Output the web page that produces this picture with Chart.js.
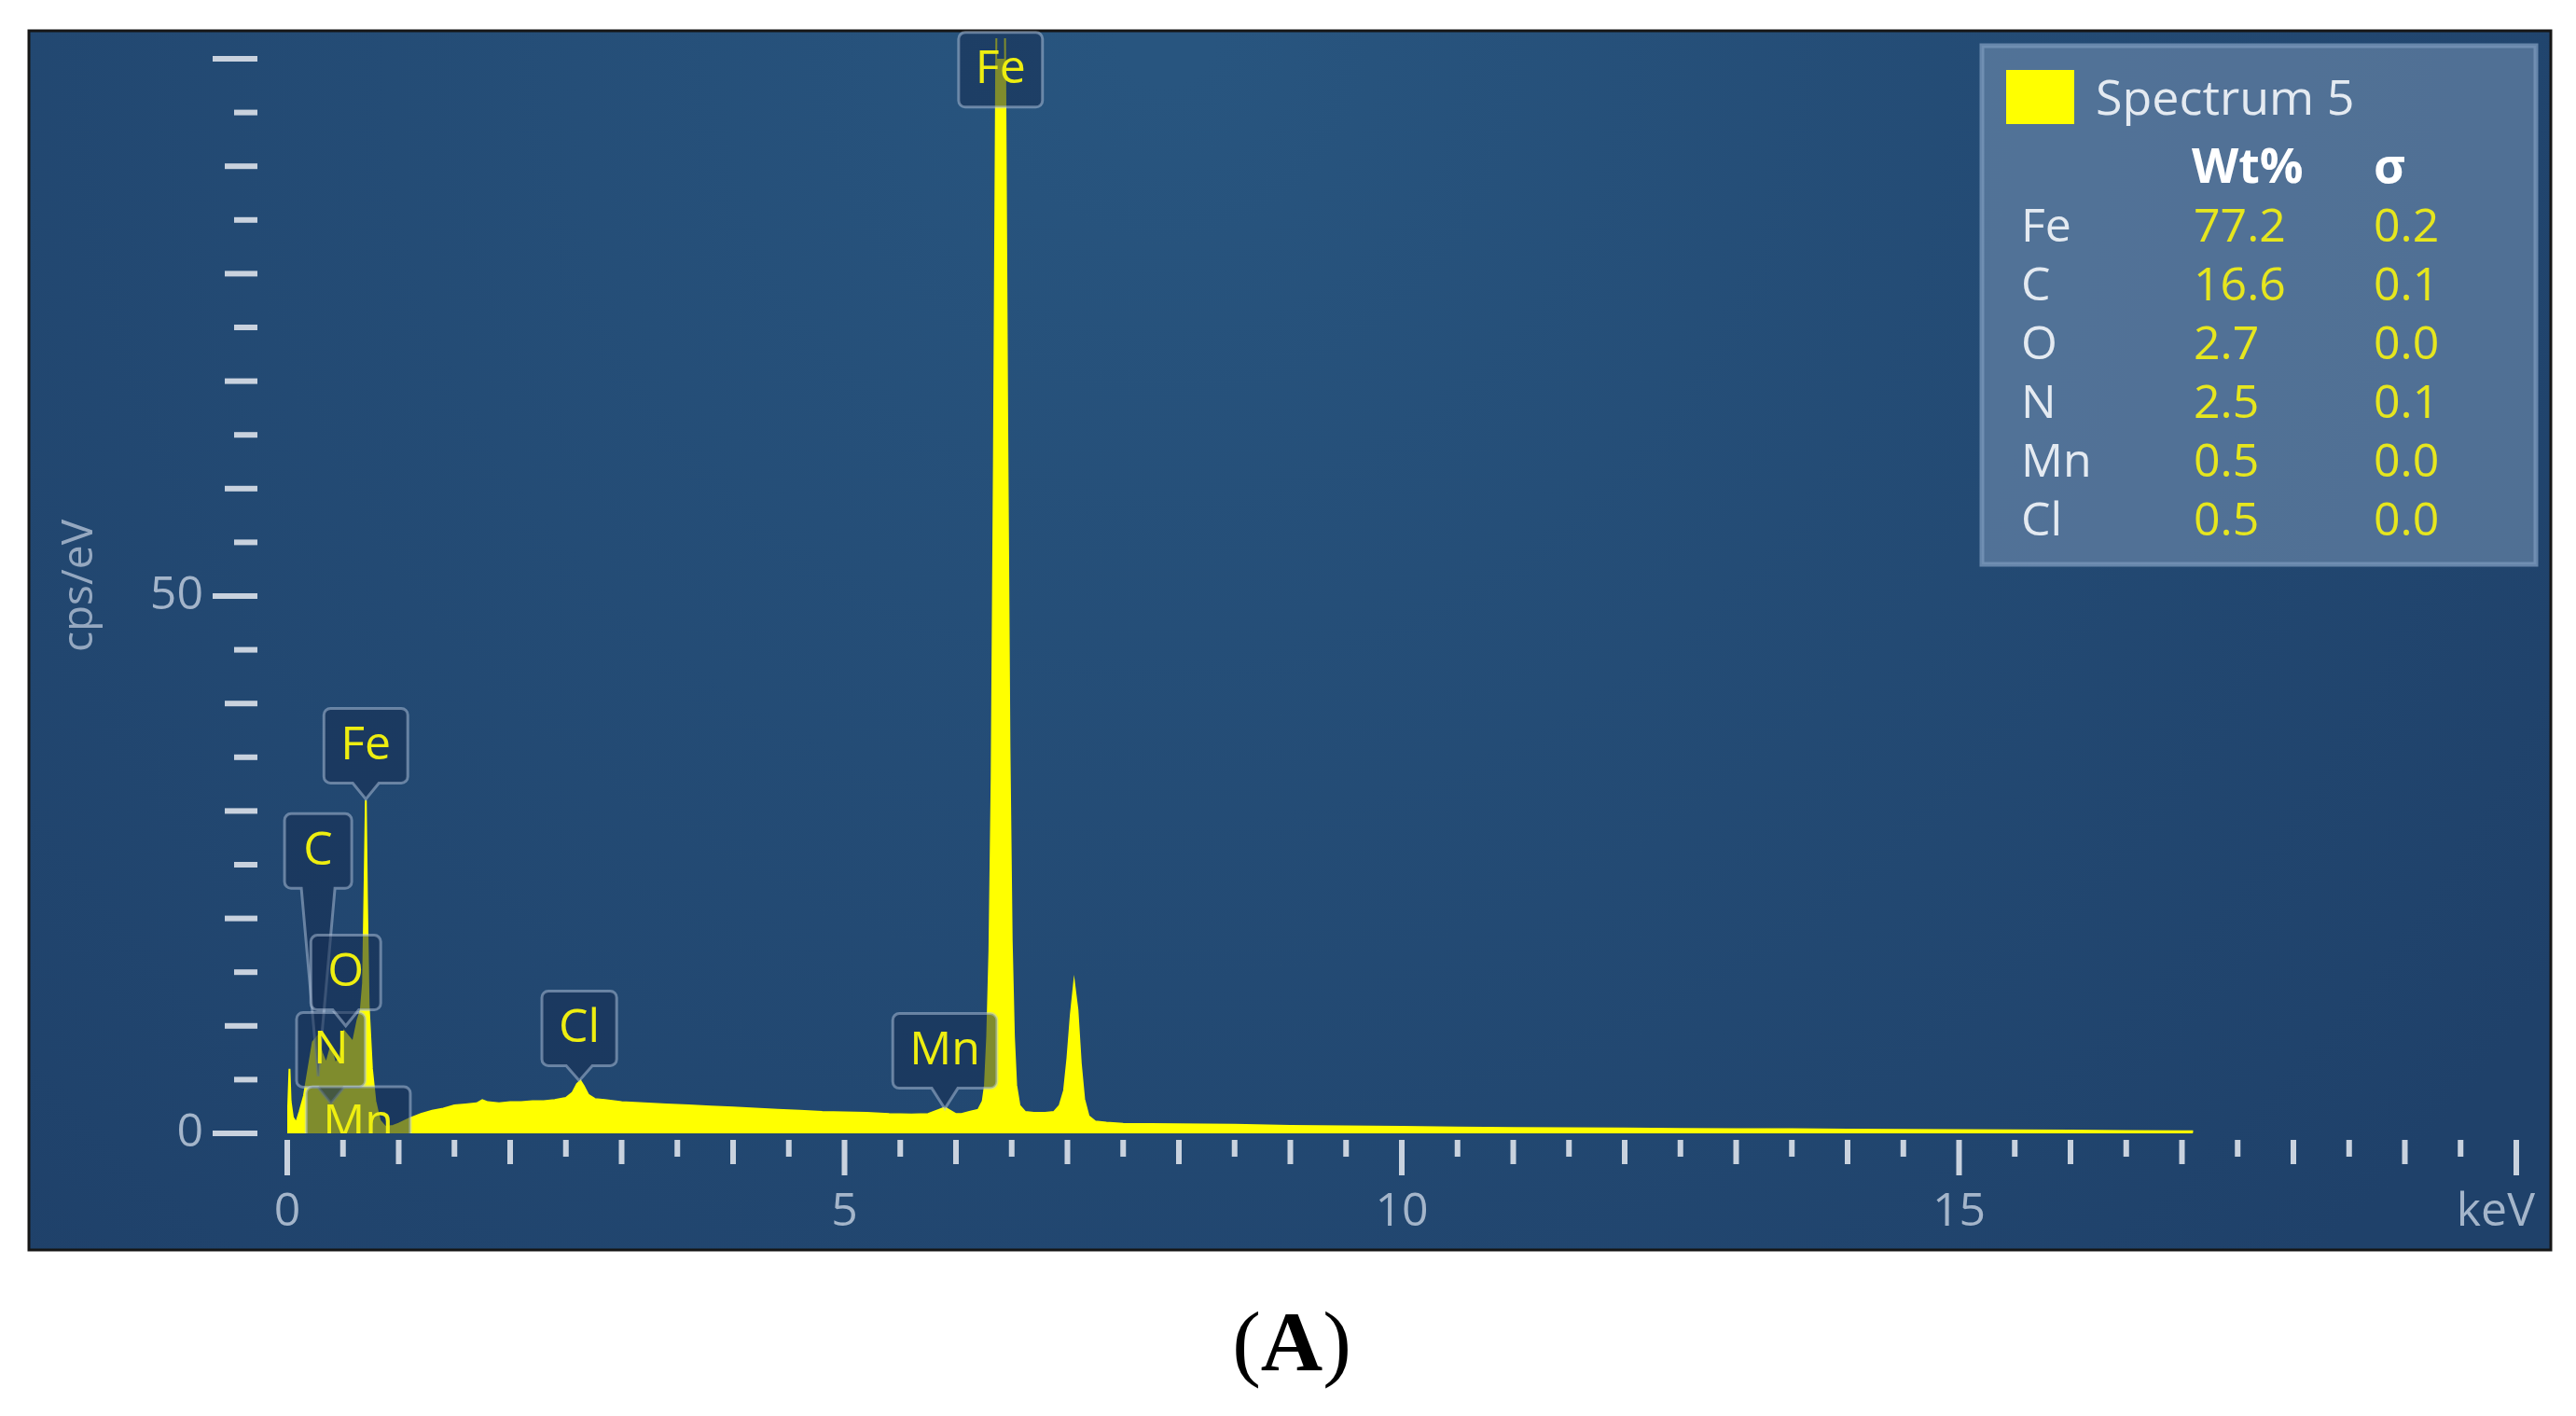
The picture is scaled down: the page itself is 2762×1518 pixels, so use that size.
<!DOCTYPE html>
<html>
<head>
<meta charset="utf-8">
<script src="https://cdn.jsdelivr.net/npm/chart.js@4.4.1/dist/chart.umd.min.js"></script>
<style>
  html, body { margin: 0; padding: 0; background: #fff; }
  #wrap { position: relative; width: 2762px; height: 1518px; }
  #caption { position: absolute; left: 0; width: 2770px; top: 1392px; text-align: center;
             font: 92px 'Liberation Serif', serif; line-height: 92px; color: #000; }
</style>
</head>
<body>
<div id="wrap">
  <canvas id="myChart" width="2762" height="1518"></canvas>
  <div id="caption">(<b>A</b>)</div>
</div>
<script>
// EDS spectrum, keV vs cps/eV
var energy = [0.00, 0.01, 0.02, 0.03, 0.05, 0.08, 0.11, 0.15, 0.19, 0.23, 0.27, 0.31, 0.35, 0.39,
  0.43, 0.47, 0.51, 0.55, 0.59, 0.63, 0.66, 0.68, 0.695, 0.705, 0.715, 0.73, 0.76, 0.79, 0.83,
  0.88, 0.95, 1.00, 1.10, 1.20, 1.30, 1.40, 1.50, 1.60, 1.70, 1.75, 1.80, 1.90, 2.00, 2.10,
  2.20, 2.30, 2.40, 2.50, 2.56, 2.60, 2.63, 2.66, 2.70, 2.76, 2.85, 3.00, 3.20, 3.40, 3.60,
  3.80, 4.00, 4.20, 4.40, 4.60, 4.80, 5.00, 5.20, 5.40, 5.60, 5.75, 5.85, 5.90, 5.95, 6.00,
  6.05, 6.12, 6.20, 6.24, 6.26, 6.28, 6.30, 6.32, 6.34, 6.36, 6.38, 6.40, 6.42, 6.44, 6.46,
  6.48, 6.50, 6.52, 6.54, 6.57, 6.62, 6.70, 6.80, 6.88, 6.93, 6.97, 7.00, 7.03, 7.06, 7.09,
  7.12, 7.15, 7.19, 7.25, 7.35, 7.50, 8.00, 8.50, 9.00, 9.50, 10.00, 10.50, 11.00, 11.50,
  12.00, 12.50, 13.00, 13.50, 14.00, 14.50, 15.00, 15.50, 16.00, 16.50, 17.00, 17.10];
var counts = [0.0, 3.0, 6.0, 3.0, 1.5, 1.0, 2.0, 3.5, 6.0, 8.5, 9.0, 7.5, 6.5, 8.0,
  6.5, 7.0, 9.5, 9.0, 8.5, 10.5, 11.5, 14.0, 24.0, 31.0, 22.0, 12.0, 6.0, 3.0, 1.2,
  0.6, 0.7, 0.9, 1.4, 1.8, 2.1, 2.3, 2.6, 2.7, 2.8, 3.1, 2.9, 2.8, 2.9, 2.9,
  3.0, 3.0, 3.1, 3.3, 3.8, 4.6, 4.9, 4.4, 3.6, 3.2, 3.1, 2.9, 2.8, 2.7, 2.6,
  2.5, 2.4, 2.3, 2.2, 2.1, 2.0, 1.95, 1.9, 1.8, 1.75, 1.8, 2.2, 2.4, 2.1, 1.8,
  1.8, 2.0, 2.2, 3.0, 4.5, 9.0, 17.0, 33.0, 62.0, 98.0, 130.0, 147.0, 132.0, 102.0, 66.0,
  36.0, 18.0, 9.0, 4.5, 2.6, 2.0, 1.9, 1.9, 2.0, 2.6, 4.0, 7.0, 11.0, 14.0, 11.5,
  6.5, 3.2, 1.6, 1.1, 1.0, 0.9, 0.85, 0.8, 0.7, 0.65, 0.6, 0.55, 0.5, 0.48,
  0.45, 0.42, 0.4, 0.38, 0.35, 0.33, 0.3, 0.28, 0.25, 0.22, 0.2, 0.2];

// peak markers: element line (keV), box bottom and pointer tip in cps
var peakNames  = ["C", "N", "O", "Mn", "Fe", "Cl", "Mn", "Fe"];
var peakEnergy = [0.277, 0.392, 0.525, 0.637, 0.705, 2.62, 5.90, 6.40];
var peakBox    = [22.8, 4.3, 11.5, -2.6, 32.6, 6.3, 4.2, 95.5];
var peakTip    = [5.3, 2.8, 10.0, -2.6, 31.1, 4.9, 2.3, 95.5];

// quant table
var elements  = ["Fe", "C", "O", "N", "Mn", "Cl"];
var wtPercent = [77.2, 16.6, 2.7, 2.5, 0.5, 0.5];
var sigma     = [0.2, 0.1, 0.0, 0.1, 0.0, 0.0];

var tickColor = "#c9d2de";
var labelColor = "#a4b5ca";
var yellow = "#ffff00";

var panelPlugin = {
  id: "panel",
  beforeDraw: function (chart) {
    var ctx = chart.ctx;
    ctx.save();
    ctx.fillStyle = "#ffffff";
    ctx.fillRect(0, 0, chart.width, chart.height);
    var g = ctx.createRadialGradient(1250, 40, 50, 1250, 40, 1800);
    g.addColorStop(0, "#28557f");
    g.addColorStop(1, "#1f416a");
    ctx.fillStyle = g;
    ctx.fillRect(31, 33, 2704, 1307);
    ctx.strokeStyle = "#161616";
    ctx.lineWidth = 3;
    ctx.strokeRect(31, 33, 2704, 1307);
    ctx.restore();
  },
  beforeDatasetsDraw: function (chart) {
    var ctx = chart.ctx;
    var xs = chart.scales.x, ys = chart.scales.y;
    var area = chart.chartArea;
    ctx.save();
    ctx.fillStyle = tickColor;
    // x ticks every 0.5 keV
    xs.ticks.forEach(function (t) {
      var v = t.value;
      var len = v % 5 === 0 ? 38 : (v % 1 === 0 ? 26 : 18);
      var px = xs.getPixelForValue(v);
      ctx.fillRect(px - 3, area.bottom + 7, 6, len);
    });
    // y ticks every 5
    ys.ticks.forEach(function (t) {
      var v = t.value;
      var len = v % 50 === 0 ? 48 : (v % 10 === 0 ? 35 : 25);
      var py = ys.getPixelForValue(v);
      ctx.fillRect(area.left - 32 - len, py - 3, len, 6);
    });
    // axis titles
    ctx.fillStyle = labelColor;
    ctx.font = "50px 'Open Sans'";
    ctx.textAlign = "right";
    ctx.textBaseline = "middle";
    ctx.fillText("keV", xs.getPixelForValue(20) + 20, area.bottom + 85);
    ctx.translate(86, 628);
    ctx.rotate(-Math.PI / 2);
    ctx.font = "46px 'Open Sans'";
    ctx.textAlign = "center";
    ctx.fillStyle = "#95a8c0";
    ctx.fillText("cps/eV", 0, 0);
    ctx.restore();
  },
  afterDatasetsDraw: function (chart) {
    var ctx = chart.ctx;
    var xs = chart.scales.x, ys = chart.scales.y;
    var area = chart.chartArea;
    ctx.save();
    ctx.beginPath();
    ctx.rect(0, 0, chart.width, area.bottom);
    ctx.clip();
    ctx.font = "50px 'Open Sans'";
    ctx.textAlign = "center";
    ctx.textBaseline = "middle";
    peakNames.forEach(function (name, i) {
      var cx = xs.getPixelForValue(peakEnergy[i]);
      var bottom = ys.getPixelForValue(peakBox[i]);
      var tip = ys.getPixelForValue(peakTip[i]);
      var w = Math.max(ctx.measureText(name).width + 36, 72);
      var h = 80, r = 7;
      var left = cx - w / 2, right = cx + w / 2, top = bottom - h;
      var pb = tip - bottom > 60 ? 18 : 14;
      ctx.beginPath();
      ctx.moveTo(left + r, top);
      ctx.lineTo(right - r, top);
      ctx.arcTo(right, top, right, top + r, r);
      ctx.lineTo(right, bottom - r);
      ctx.arcTo(right, bottom, right - r, bottom, r);
      if (tip - bottom > 2) {
        ctx.lineTo(cx + pb, bottom);
        ctx.lineTo(cx, tip);
        ctx.lineTo(cx - pb, bottom);
      }
      ctx.lineTo(left + r, bottom);
      ctx.arcTo(left, bottom, left, bottom - r, r);
      ctx.lineTo(left, top + r);
      ctx.arcTo(left, top, left + r, top, r);
      ctx.closePath();
      ctx.fillStyle = "rgba(22,46,82,0.55)";
      ctx.fill();
      ctx.strokeStyle = "rgba(180,198,222,0.5)";
      ctx.lineWidth = 3;
      ctx.stroke();
      ctx.fillStyle = "#eeee10";
      ctx.fillText(name, cx, top + h / 2);
    });
    ctx.restore();

    // legend / quant table
    ctx.save();
    ctx.fillStyle = "rgba(110,138,172,0.62)";
    ctx.fillRect(2125, 49, 594, 556);
    ctx.strokeStyle = "rgba(120,150,185,0.8)";
    ctx.lineWidth = 5;
    ctx.strokeRect(2125, 49, 594, 556);
    ctx.fillStyle = yellow;
    ctx.fillRect(2151, 75, 73, 58);
    ctx.textBaseline = "alphabetic";
    ctx.textAlign = "left";
    ctx.font = "52px 'Open Sans'";
    ctx.fillStyle = "#e4eaf1";
    ctx.fillText("Spectrum 5", 2247, 123);
    ctx.font = "bold 52px 'Open Sans'";
    ctx.fillStyle = "#ffffff";
    ctx.fillText("Wt%", 2350, 196);
    ctx.fillText("\u03c3", 2545, 196);
    ctx.font = "50px 'Open Sans'";
    elements.forEach(function (el, i) {
      var base = 259 + i * 63;
      ctx.fillStyle = "#e4eaf1";
      ctx.fillText(el, 2167, base);
      ctx.fillStyle = "#e6e61e";
      ctx.fillText(wtPercent[i].toFixed(1), 2352, base);
      ctx.fillText(sigma[i].toFixed(1), 2545, base);
    });
    ctx.restore();
  }
};

new Chart("myChart", {
  type: "line",
  data: {
    datasets: [{
      data: energy.map(function (e, i) { return {x: e, y: counts[i]}; }),
      borderColor: yellow,
      backgroundColor: yellow,
      borderWidth: 2,
      pointRadius: 0,
      fill: "origin",
      tension: 0,
      clip: {left: 0, top: 22, right: 0, bottom: 0}
    }]
  },
  options: {
    responsive: false,
    animation: false,
    devicePixelRatio: 1,
    layout: {padding: {top: 63, right: 64, bottom: 0, left: 0}},
    plugins: {legend: {display: false}, tooltip: {enabled: false}},
    scales: {
      x: {
        type: "linear",
        min: 0,
        max: 20,
        grid: {display: false, drawTicks: false},
        border: {display: false},
        afterFit: function (s) {
          s.height = 303;
          s.paddingLeft = 0; s.paddingRight = 0;
        },
        ticks: {
          stepSize: 0.5,
          autoSkip: false,
          maxRotation: 0,
          padding: 55,
          color: labelColor,
          font: {family: "'Open Sans'", size: 50},
          callback: function (v) { return (v % 5 === 0 && v < 20) ? v : ""; }
        }
      },
      y: {
        min: 0,
        max: 100,
        grid: {display: false, drawTicks: false},
        border: {display: false},
        afterFit: function (s) {
          s.width = 308;
          s.paddingTop = 0; s.paddingBottom = 0;
        },
        ticks: {
          stepSize: 5,
          autoSkip: false,
          padding: 90,
          color: labelColor,
          font: {family: "'Open Sans'", size: 50},
          callback: function (v) { return (v % 50 === 0 && v < 100) ? v : ""; }
        }
      }
    }
  },
  plugins: [panelPlugin]
});
</script>
</body>
</html>
